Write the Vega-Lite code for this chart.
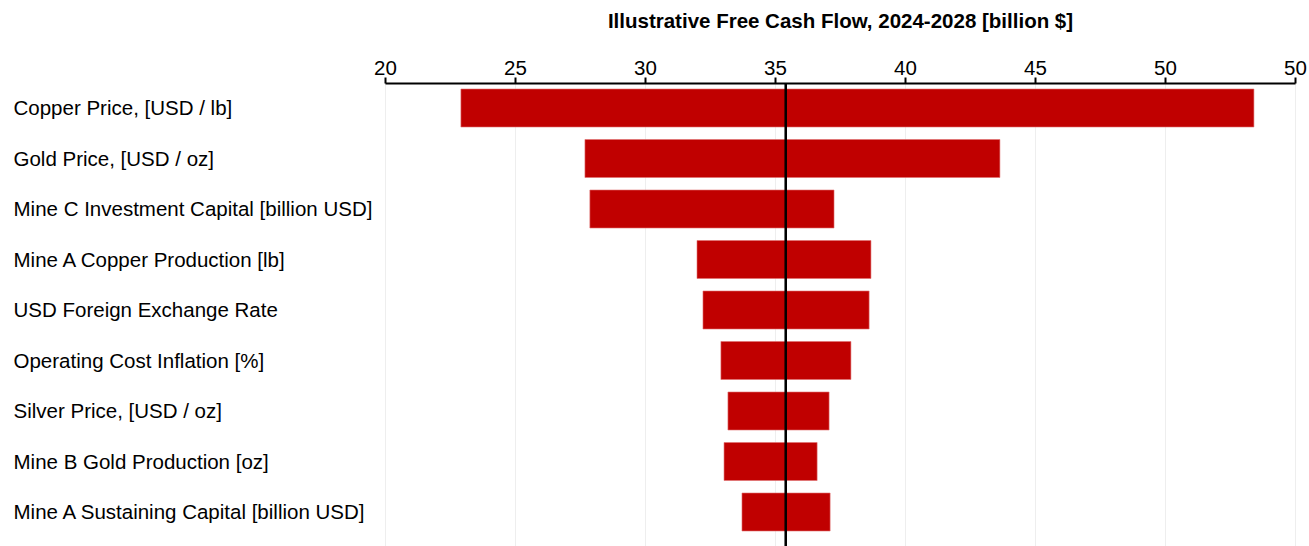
{
  "$schema": "https://vega.github.io/schema/vega-lite/v6.json",
  "autosize": {"type": "none"},
  "padding": {"left": 385, "top": 83, "right": 14, "bottom": 0},
  "width": 910,
  "height": 463,
  "background": "white",
  "config": {
    "view": {"stroke": null},
    "font": "Liberation Sans"
  },
  "data": {
    "values": [
      {"driver": "Copper Price, [USD / lb]", "low": 22.92, "high": 53.42},
      {"driver": "Gold Price, [USD / oz]", "low": 27.69, "high": 43.65},
      {"driver": "Mine C Investment Capital [billion USD]", "low": 27.88, "high": 37.27},
      {"driver": "Mine A Copper Production [lb]", "low": 32.0, "high": 38.69},
      {"driver": "USD Foreign Exchange Rate", "low": 32.23, "high": 38.62},
      {"driver": "Operating Cost Inflation [%]", "low": 32.92, "high": 37.92},
      {"driver": "Silver Price, [USD / oz]", "low": 33.19, "high": 37.08},
      {"driver": "Mine B Gold Production [oz]", "low": 33.04, "high": 36.62},
      {"driver": "Mine A Sustaining Capital [billion USD]", "low": 33.73, "high": 37.12}
    ]
  },
  "layer": [
    {
      "mark": {"type": "bar", "color": "#C00000", "stroke": "#e07070", "strokeWidth": 0.6},
      "encoding": {
        "y": {
          "field": "driver", "type": "nominal", "sort": null,
          "scale": {"paddingInner": 0.2475, "paddingOuter": 0.208, "align": 0.286},
          "axis": {
            "title": null, "orient": "left", "domain": false, "ticks": false,
            "labelAlign": "left", "labelPadding": 372, "labelFontSize": 20.5,
            "labelColor": "#000000", "labelLimit": 400, "labelOffset": 1
          }
        },
        "x": {
          "field": "low", "type": "quantitative",
          "scale": {"domain": [20, 55], "nice": false, "zero": false},
          "axis": {
            "orient": "top",
            "title": "Illustrative Free Cash Flow, 2024-2028 [billion $]",
            "titleFontSize": 20.5, "titleFontWeight": "bold", "titleColor": "#000000",
            "titlePadding": 27,
            "values": [20, 25, 30, 35, 40, 45, 50, 55],
            "labelExpr": "datum.value == 55 ? '50' : datum.label",
            "labelFlush": false,
            "labelFontSize": 20.5, "labelColor": "#000000", "labelPadding": -1,
            "domainColor": "#000000", "domainWidth": 2,
            "tickColor": "#000000", "tickWidth": 2, "tickSize": 6,
            "grid": true, "gridColor": "#eeeeee", "gridWidth": 1
          }
        },
        "x2": {"field": "high"}
      }
    },
    {
      "mark": {"type": "rule", "color": "#000000", "strokeWidth": 2},
      "encoding": {"x": {"datum": 35.42}}
    }
  ]
}
